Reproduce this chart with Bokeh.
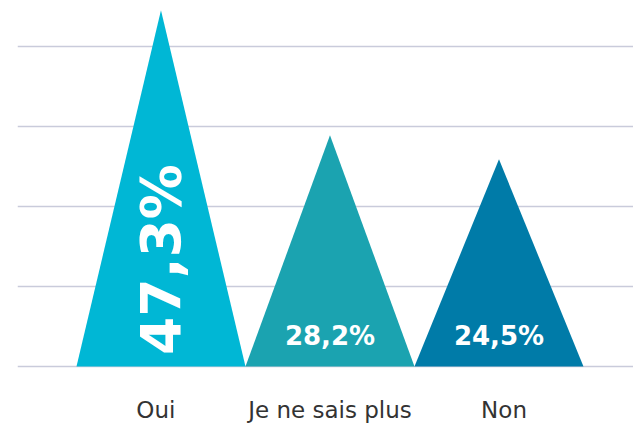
import math
from bokeh.plotting import figure
from bokeh.models import Range1d, FixedTicker, ColumnDataSource
from bokeh.core.properties import value
from bokeh.embed import file_html
from bokeh.resources import INLINE

# ---- data ----
categories = ["Oui", "Je ne sais plus", "Non"]
values = [47.3, 28.2, 24.5]
labels = ["47,3%", "28,2%", "24,5%"]
colors = ["#00b7d5", "#1ba3b0", "#007ba8"]

# ---- scale settings ----
BASE = -7.2
Y_START = -15.92
Y_END = 48.8
GRID_STEP = 12.24
HALF = 0.5
LABEL_SPREAD = 1.03

xpos = list(range(len(categories)))

p = figure(width=633, height=423, output_backend="svg", toolbar_location=None,
           x_range=Range1d(-0.849, 2.796), y_range=Range1d(Y_START, Y_END),
           min_border_left=17, min_border_right=0, min_border_top=0,
           min_border_bottom=0)
p.outline_line_color = None
p.background_fill_color = "white"
p.border_fill_color = "white"
p.xaxis.visible = False
p.yaxis.visible = False

# grid (baseline included)
p.xgrid.visible = False
p.ygrid[0].ticker = FixedTicker(ticks=[BASE + k * GRID_STEP for k in range(0, 5)])
p.ygrid.grid_line_color = "#c9cbdb"
p.ygrid.grid_line_width = 1.5

# triangles
xs = [[x - HALF, x, x + HALF] for x in xpos]
ys = [[BASE, v, BASE] for v in values]
p.patches(xs=xs, ys=ys, fill_color=colors, line_color=None)

# category labels
mid = (len(xpos) - 1) / 2
label_x = [mid + (x - mid) * LABEL_SPREAD for x in xpos]
src_cat = ColumnDataSource(dict(x=label_x, y=[BASE] * len(xpos), t=categories))
p.text(x="x", y="y", text="t", source=src_cat,
       text_font=value("DejaVu Sans"), text_font_size="23px",
       text_color="#333333", text_align="center", text_baseline="middle",
       y_offset=43)

# value labels
src_big = ColumnDataSource(dict(x=[xpos[0]], y=[BASE], t=[labels[0]]))
p.text(x="x", y="y", text="t", source=src_big, angle=math.pi / 2,
       text_font=value("DejaVu Sans"), text_font_style="bold",
       text_font_size="55px", text_color="white",
       text_align="center", text_baseline="middle", y_offset=-107)

src_small = ColumnDataSource(dict(x=xpos[1:], y=[BASE] * 2, t=labels[1:]))
p.text(x="x", y="y", text="t", source=src_small,
       text_font=value("DejaVu Sans"), text_font_style="bold",
       text_font_size="26px", text_color="white",
       text_align="center", text_baseline="middle", y_offset=-31)

open("out.html", "w").write(file_html(p, INLINE))
